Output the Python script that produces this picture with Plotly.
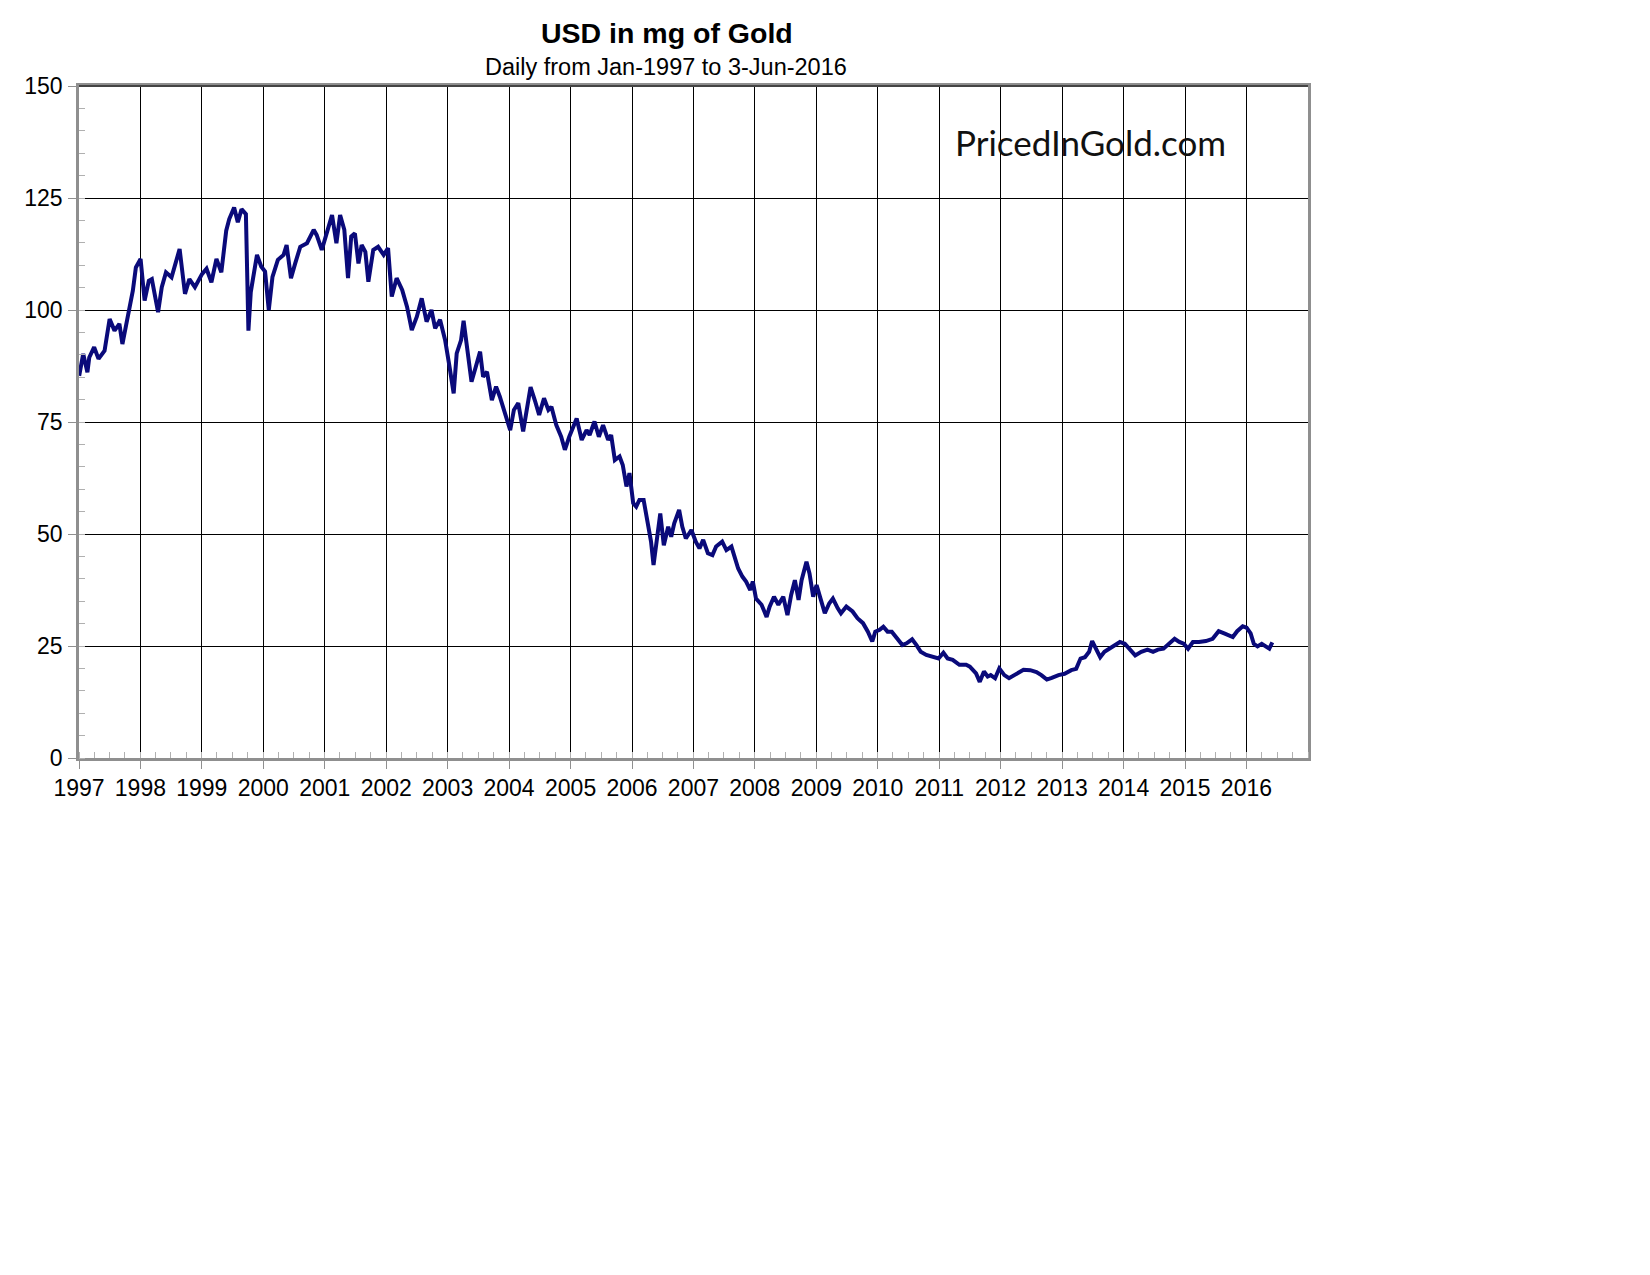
import plotly.graph_objects as go

# ---------------- data ----------------
dates = [
    "1997-01-02", "1997-01-26", "1997-02-20", "1997-03-03", "1997-04-01", "1997-04-27",
    "1997-06-02", "1997-07-02", "1997-07-31", "1997-08-29", "1997-09-16", "1997-10-19",
    "1997-11-17", "1997-12-05",
    "1998-01-02", "1998-01-26", "1998-02-20", "1998-03-10", "1998-04-16", "1998-05-08",
    "1998-06-02", "1998-07-05", "1998-07-27", "1998-08-22", "1998-09-23", "1998-10-19",
    "1998-11-21",
    "1999-01-02", "1999-01-29", "1999-02-27", "1999-03-29", "1999-04-27", "1999-05-26",
    "1999-06-13", "1999-07-12", "1999-08-03", "1999-08-25", "1999-09-20", "1999-10-05",
    "1999-10-19", "1999-11-03", "1999-11-25", "1999-12-20",
    "2000-01-12", "2000-02-03", "2000-02-25", "2000-03-28", "2000-05-01", "2000-05-19",
    "2000-06-14", "2000-07-09", "2000-08-08", "2000-09-17", "2000-10-27", "2000-11-14",
    "2000-12-14",
    "2001-01-15", "2001-02-13", "2001-03-11", "2001-04-02", "2001-04-27", "2001-05-19",
    "2001-06-07", "2001-06-29", "2001-07-20", "2001-08-08", "2001-08-30", "2001-09-17",
    "2001-10-16", "2001-11-14", "2001-12-17",
    "2002-01-12", "2002-02-03", "2002-03-04", "2002-04-06", "2002-05-05", "2002-06-02",
    "2002-07-02", "2002-07-31", "2002-08-29", "2002-09-27", "2002-10-19", "2002-11-17",
    "2002-12-17",
    "2003-01-12", "2003-02-06", "2003-02-24", "2003-03-22", "2003-04-06", "2003-04-24",
    "2003-05-23", "2003-06-18", "2003-07-13", "2003-07-31", "2003-08-23", "2003-09-21",
    "2003-10-16", "2003-11-07", "2003-12-10",
    "2004-01-08", "2004-01-30", "2004-02-25", "2004-03-25", "2004-04-20", "2004-05-08",
    "2004-06-02", "2004-06-28", "2004-07-27", "2004-08-22", "2004-09-09", "2004-10-08",
    "2004-11-06", "2004-11-28", "2004-12-24",
    "2005-01-12", "2005-02-06", "2005-03-08", "2005-04-06", "2005-04-24", "2005-05-23",
    "2005-06-18", "2005-07-13", "2005-08-12", "2005-08-30", "2005-09-21", "2005-10-19",
    "2005-11-07", "2005-11-29", "2005-12-17",
    "2006-01-08", "2006-01-26", "2006-02-14", "2006-03-11", "2006-03-25", "2006-04-13",
    "2006-04-24", "2006-05-09", "2006-05-27", "2006-06-18", "2006-07-09", "2006-08-04",
    "2006-08-22", "2006-09-09", "2006-10-08", "2006-10-27", "2006-11-17", "2006-12-20",
    "2007-01-15", "2007-02-06", "2007-02-28", "2007-03-28", "2007-04-24", "2007-05-16",
    "2007-06-21", "2007-07-16", "2007-08-15", "2007-09-02", "2007-09-24", "2007-10-19",
    "2007-11-10", "2007-12-05", "2007-12-20",
    "2008-01-08", "2008-02-10", "2008-03-11", "2008-03-29", "2008-04-24", "2008-05-20",
    "2008-06-18", "2008-07-13", "2008-08-04", "2008-08-26", "2008-09-17", "2008-10-05",
    "2008-11-03", "2008-11-21", "2008-12-13",
    "2009-01-02", "2009-01-19", "2009-02-20", "2009-03-18", "2009-04-09", "2009-05-08",
    "2009-05-27", "2009-06-28", "2009-08-04", "2009-09-02", "2009-10-05", "2009-11-03",
    "2009-11-29", "2009-12-17",
    "2010-01-12", "2010-02-03", "2010-02-28", "2010-03-25", "2010-04-24", "2010-05-27",
    "2010-06-21", "2010-07-24", "2010-08-19", "2010-09-13", "2010-10-16", "2010-11-21",
    "2010-12-28",
    "2011-01-26", "2011-02-20", "2011-03-22", "2011-05-01", "2011-06-10", "2011-07-02",
    "2011-08-08", "2011-08-30", "2011-09-24", "2011-10-16", "2011-11-03", "2011-11-29",
    "2011-12-24",
    "2012-01-23", "2012-02-20", "2012-04-01", "2012-05-16", "2012-06-25", "2012-08-01",
    "2012-08-30", "2012-10-02", "2012-10-31", "2012-12-10",
    "2013-01-15", "2013-02-24", "2013-03-25", "2013-04-20", "2013-05-16", "2013-06-10",
    "2013-06-28", "2013-07-24", "2013-08-15", "2013-09-09", "2013-10-08", "2013-11-07",
    "2013-12-10",
    "2014-01-08", "2014-02-06", "2014-03-11", "2014-04-16", "2014-05-23", "2014-06-25",
    "2014-07-24", "2014-08-26", "2014-09-27", "2014-10-31", "2014-11-28", "2014-12-24",
    "2015-01-19", "2015-02-17", "2015-03-25", "2015-05-05", "2015-06-14", "2015-07-20",
    "2015-08-22", "2015-09-21", "2015-10-12", "2015-11-07", "2015-12-10",
    "2016-01-02", "2016-01-26", "2016-02-14", "2016-03-07", "2016-04-01", "2016-04-24",
    "2016-05-16", "2016-06-03",
]

usd_mg_gold = [
    85.3, 90.2, 86.1, 89.4, 91.7, 89.1,
    90.9, 98.0, 95.4, 96.9, 92.4, 98.7,
    104.3, 109.5,
    111.4, 102.1, 106.5, 106.9, 99.5, 105.1,
    108.4, 107.3, 109.9, 113.6, 103.6, 106.9,
    105.1,
    108.0, 109.2, 106.2, 111.4, 108.4, 117.7,
    120.3, 122.9, 119.6, 122.5, 121.4, 95.4,
    104.0, 107.4, 112.3, 109.7,
    108.6, 100.0, 107.4, 111.2, 112.3, 114.5,
    107.1, 110.4, 114.1, 114.9, 117.9, 116.7,
    113.4,
    117.5, 121.2, 114.9, 121.2, 117.9, 107.1,
    116.4, 117.1, 110.4, 114.5, 113.0, 106.3,
    113.4, 114.1, 112.3,
    113.8, 103.0, 107.1, 104.5, 100.7, 95.5,
    98.5, 102.6, 97.4, 100.0, 95.9, 97.8,
    93.3,
    87.4, 81.4, 90.3, 93.3, 97.6, 92.6,
    84.0, 87.4, 90.7, 85.1, 86.2, 79.9,
    82.9, 80.7, 76.6,
    73.2, 77.7, 79.2, 72.9, 78.4, 82.8,
    79.9, 76.6, 80.3, 77.7, 78.4, 74.3,
    71.7, 68.8, 71.7,
    73.6, 75.8, 71.0, 73.2, 72.1, 75.1,
    71.7, 74.3, 71.0, 72.1, 66.5, 67.3,
    65.4, 60.6, 63.6,
    56.9, 56.1, 57.6, 57.6, 54.6, 50.9,
    48.3, 43.1, 47.9, 54.6, 47.5, 51.6,
    49.4, 52.4, 55.4, 51.6, 49.0, 50.9,
    48.3, 46.8, 48.7, 45.7, 45.3, 47.2,
    48.3, 46.4, 47.2, 44.9, 42.3, 40.5,
    39.4, 37.5, 39.4,
    35.6, 34.2, 31.5, 33.8, 36.0, 34.2,
    36.0, 31.9, 36.4, 39.7, 35.3, 39.7,
    43.8, 41.2, 36.0,
    38.6, 36.4, 32.3, 34.5, 35.6, 33.4,
    32.3, 33.8, 32.7, 31.2, 30.1, 28.2,
    26.0, 28.2,
    28.6, 29.3, 28.2, 28.2, 26.7, 25.2,
    25.6, 26.5, 25.2, 23.7, 23.0, 22.6,
    22.2,
    23.5, 22.2, 21.9, 20.8, 20.8, 20.4,
    18.9, 17.0, 19.3, 18.2, 18.5, 17.8,
    20.0,
    18.5, 17.8, 18.8, 19.7, 19.6, 19.2,
    18.5, 17.5, 17.9, 18.5,
    18.8, 19.6, 19.9, 22.2, 22.5, 23.7,
    26.1, 24.0, 22.5, 23.7, 24.4, 25.1,
    25.9,
    25.5, 24.4, 22.9, 23.7, 24.2, 23.7,
    24.2, 24.4, 25.5, 26.6, 25.9, 25.5,
    24.4, 25.9, 25.9, 26.1, 26.6, 28.3,
    27.8, 27.4, 27.0, 28.3, 29.4,
    29.1, 27.8, 25.5, 24.9, 25.5, 24.8,
    24.4, 25.8,
]

title_text = "USD in mg of Gold"
subtitle_text = "Daily from Jan-1997 to 3-Jun-2016"
watermark_text = "PricedInGold.com"
year_labels = [str(y) for y in range(1997, 2017)]
year_ticks = [y + "-01-01" for y in year_labels]
y_ticks = [0, 25, 50, 75, 100, 125, 150]

FONT = "Liberation Sans, Arial, sans-serif"
AXIS_GREY = "#8f8f8f"

fig = go.Figure()
fig.add_trace(go.Scatter(
    x=dates, y=usd_mg_gold, mode="lines",
    line=dict(color="#0a0a7a", width=4),
    showlegend=False, hoverinfo="x+y",
))

fig.update_layout(
    width=1650, height=1275,
    margin=dict(l=79, r=342, t=86, b=517, pad=0),
    paper_bgcolor="white", plot_bgcolor="white",
    font=dict(family=FONT, size=23, color="black"),
    showlegend=False,
)

fig.update_xaxes(
    type="date",
    range=["1997-01-01", "2017-01-01"],
    tickvals=year_ticks, ticktext=year_labels,
    showgrid=True, gridcolor="black", gridwidth=1,
    showline=True, linecolor=AXIS_GREY, linewidth=2.5, mirror=True,
    ticks="outside", ticklen=8, tickwidth=1, tickcolor=AXIS_GREY,
    tickfont=dict(family=FONT, size=23, color="black"),
    ticklabelstandoff=0,
    minor=dict(dtick="M3", tick0="1997-01-01", ticks="inside", ticklen=6,
               tickcolor="#b0b0b0", tickwidth=1, showgrid=False),
    zeroline=False, fixedrange=True,
)

fig.update_yaxes(
    range=[0, 150],
    tickvals=y_ticks,
    showgrid=True, gridcolor="black", gridwidth=1,
    showline=True, linecolor=AXIS_GREY, linewidth=2.5, mirror=True,
    ticks="outside", ticklen=8, tickwidth=1, tickcolor=AXIS_GREY,
    tickfont=dict(family=FONT, size=23, color="black"),
    ticklabelstandoff=1,
    minor=dict(dtick=5, tick0=0, ticks="inside", ticklen=6,
               tickcolor="#b0b0b0", tickwidth=1, showgrid=False),
    zeroline=False, fixedrange=True,
)

# darker top border (grid line at 150 over the frame)
fig.add_shape(type="line", xref="paper", yref="paper", x0=0, x1=1, y0=1, y1=1,
              line=dict(color="#444444", width=2), layer="above")

plot_left, plot_w = 79, 1229
plot_bottom, plot_h = 758, 672

def px_x(px):
    return (px - plot_left) / plot_w

def px_y(py):
    return (plot_bottom - py) / plot_h

fig.add_annotation(
    text="<b>" + title_text + "</b>", xref="paper", yref="paper",
    x=px_x(667), y=px_y(33), xanchor="center", yanchor="middle",
    showarrow=False, font=dict(family=FONT, size=28.5, color="black"),
)
fig.add_annotation(
    text=subtitle_text, xref="paper", yref="paper",
    x=px_x(666), y=px_y(67), xanchor="center", yanchor="middle",
    showarrow=False, font=dict(family=FONT, size=23.5, color="black"),
)
fig.add_annotation(
    text=watermark_text, xref="paper", yref="paper",
    x=px_x(1090), y=px_y(142), xanchor="center", yanchor="middle",
    showarrow=False, font=dict(family="Lato, sans-serif", size=35, color="#111111"),
)

fig.write_html("out.html")
